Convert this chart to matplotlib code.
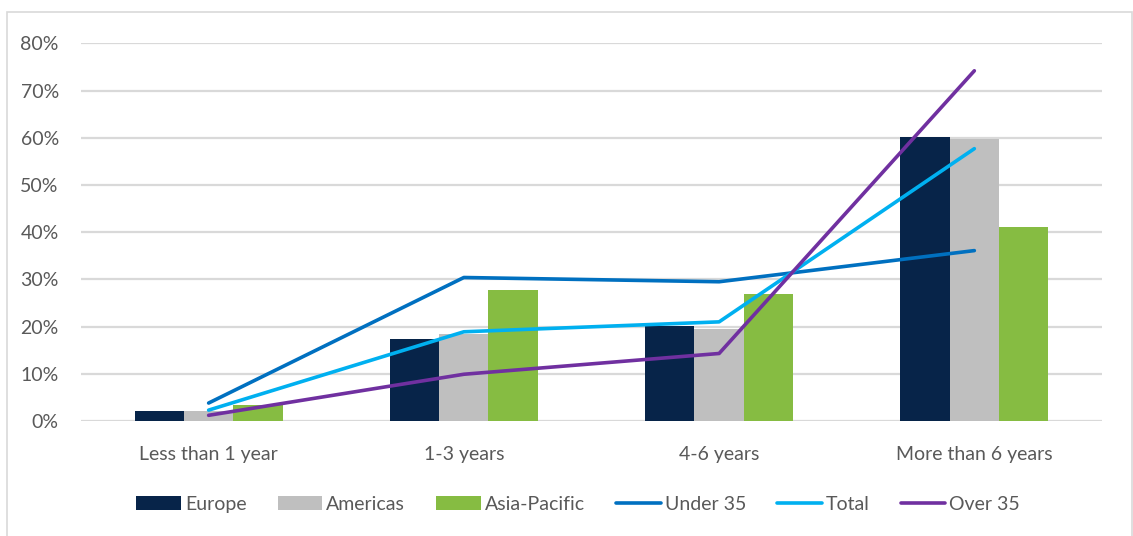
import matplotlib.pyplot as plt
import numpy as np
from matplotlib.patches import Rectangle
from matplotlib.ticker import PercentFormatter

plt.rcParams['font.family'] = ['Lato', 'DejaVu Sans']

categories = ['Less than 1 year', '1-3 years', '4-6 years', 'More than 6 years']

# bar series (fractions)
europe = [0.022, 0.173, 0.201, 0.601]
americas = [0.022, 0.184, 0.194, 0.597]
asia_pacific = [0.033, 0.278, 0.268, 0.410]

# line series (fractions)
under_35 = [0.038, 0.304, 0.295, 0.361]
total = [0.023, 0.189, 0.210, 0.577]
over_35 = [0.012, 0.099, 0.143, 0.742]

fig = plt.figure(figsize=(11.33, 5.36), dpi=100)
ax = fig.add_axes([0.0715, 0.2146, 0.9011, 0.7044])

# outer chart frame
fig.patches.append(Rectangle((7 / 1133, -0.01), 1125 / 1133, 1 - 12 / 536 + 0.01,
                             transform=fig.transFigure, fill=False,
                             edgecolor='#d9d9d9', linewidth=1.2))

x = np.arange(len(categories))
w = 0.193
b1 = ax.bar(x - w, europe, w, color='#072449', label='Europe', zorder=2)
b2 = ax.bar(x, americas, w, color='#bfbfbf', label='Americas', zorder=2)
b3 = ax.bar(x + w, asia_pacific, w, color='#86bc42', label='Asia-Pacific', zorder=2)

l1, = ax.plot(x, under_35, color='#0070c0', lw=2.6, solid_capstyle='round', label='Under 35', zorder=3)
l2, = ax.plot(x, total, color='#00b0f0', lw=2.6, solid_capstyle='round', label='Total', zorder=3)
l3, = ax.plot(x, over_35, color='#7030a0', lw=2.6, solid_capstyle='round', label='Over 35', zorder=3)

ax.set_xlim(-0.5, len(categories) - 0.5)
ax.set_ylim(0, 0.8)
ax.set_yticks(np.arange(0, 0.81, 0.1))
ax.yaxis.set_major_formatter(PercentFormatter(1.0, decimals=0))
ax.set_xticks(x)
ax.set_xticklabels(categories)
ax.grid(axis='y', color='#d9d9d9', lw=1.6, zorder=0)
ax.set_axisbelow(True)
for s in ax.spines.values():
    s.set_visible(False)
ax.tick_params(axis='both', length=0, labelsize=14, colors='#595959')
ax.tick_params(axis='x', pad=18)
ax.tick_params(axis='y', pad=16)

ax.legend([b1, b2, b3, l1, l2, l3],
          ['Europe', 'Americas', 'Asia-Pacific', 'Under 35', 'Total', 'Over 35'],
          loc='center', bbox_to_anchor=(0.487, -0.22), ncol=6, frameon=False,
          fontsize=14, labelcolor='#595959', handlelength=2.3, handleheight=0.75,
          handletextpad=0.2, columnspacing=1.6)

fig.savefig('out.png', dpi=100)
